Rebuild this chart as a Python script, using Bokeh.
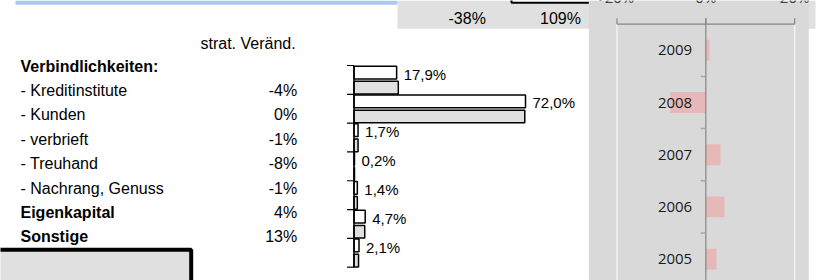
from bokeh.plotting import figure
from bokeh.models import Range1d, ColumnDataSource
from bokeh.embed import file_html
from bokeh.resources import INLINE
from bokeh.core.properties import value, field

# ---------------- data ----------------
row_labels = ["Verbindlichkeiten:", "- Kreditinstitute", "- Kunden", "- verbrieft",
              "- Treuhand", "- Nachrang, Genuss", "Eigenkapital", "Sonstige"]
row_bold = [True, False, False, False, False, False, True, True]
strat_change = ["", "-4%", "0%", "-1%", "-8%", "-1%", "4%", "13%"]
strat_header = "strat. Veränd."

bar_categories = ["Kreditinstitute", "Kunden", "verbrieft", "Treuhand",
                  "Nachrang, Genuss", "Eigenkapital", "Sonstige"]
share_current = [17.9, 72.0, 1.7, 0.2, 1.4, 4.7, 2.1]
share_previous = [18.6, 71.7, 1.7, 0.2, 1.4, 4.5, 1.9]
share_labels = ["17,9%", "72,0%", "1,7%", "0,2%", "1,4%", "4,7%", "2,1%"]

header_values = ["-38%", "109%"]

years = ["2009", "2008", "2007", "2006", "2005"]
year_change = [0.8, -8.0, 3.3, 4.2, 2.4]
year_ticks = [-20, 0, 20]
year_tick_labels = ["-20%", "0%", "20%"]

# ---------------- layout (pixels) ----------------
W, H = 827, 280
LEFT_FONT = "Liberation Sans"
YEAR_FONT = "Open Sans"

p = figure(width=W, height=H, x_range=Range1d(0, W), y_range=Range1d(H, 0),
           output_backend="svg", toolbar_location=None, min_border=0,
           x_axis_location=None, y_axis_location=None)
p.grid.visible = False
p.outline_line_color = None
p.background_fill_color = "white"
p.border_fill_color = "white"

# middle bar chart scales
mid_zero, mid_scale = 353.5, 2.382          # px of 0 %, px per %
mid_top, mid_step = 65.0, 28.81             # px of first category top, px per category
# right year chart scales
yr_zero, yr_scale = 705.3, 4.44
yr_top, yr_step = 23.7, 52.2
# left rows
row_top, row_step = 65.5, 24.4

p.extra_x_ranges = {
    "mid_x": Range1d(-mid_zero / mid_scale, (W - mid_zero) / mid_scale),
    "yr_x": Range1d(-yr_zero / yr_scale, (W - yr_zero) / yr_scale),
}
p.extra_y_ranges = {
    "mid_y": Range1d((H - mid_top) / mid_step - 0.5, -mid_top / mid_step - 0.5),
    "yr_y": Range1d((H - yr_top) / yr_step - 0.5, -yr_top / yr_step - 0.5),
    "rows": Range1d((H - row_top) / row_step, -row_top / row_step),
}

# ---------------- background decoration ----------------
p.quad(left=15, right=397, top=0, bottom=4.3, fill_color="#a9caf0", line_color=None)
p.quad(left=397, right=815, top=0, bottom=28.3, fill_color="#e0e0e0", line_color=None)
p.quad(left=511, right=600, top=-5, bottom=2.3, fill_color="white",
       line_color="black", line_width=2)
p.quad(left=588.3, right=808.3, top=0, bottom=H + 5, fill_color="#d9d9d9", line_color=None)
p.quad(left=-5, right=190.7, top=249.3, bottom=H + 10, fill_color="#e0e0e0",
       line_color="black", line_width=4)

# ---------------- left table ----------------
n_rows = len(row_labels)
rows_src = ColumnDataSource(dict(
    y=list(range(n_rows)),
    label=row_labels,
    style=["bold" if b else "normal" for b in row_bold],
    change=strat_change,
))
p.text(x=20, y="y", text="label", source=rows_src, y_range_name="rows",
       text_font=value(LEFT_FONT), text_font_size="16px", text_font_style=field("style"),
       text_baseline="middle", text_align="left", text_color="black")
p.text(x=296.7, y="y", text="change", source=rows_src, y_range_name="rows",
       text_font=value(LEFT_FONT), text_font_size="16px",
       text_baseline="middle", text_align="right", text_color="black")
p.text(x=[200], y=[42.7], text=[strat_header], text_font=value(LEFT_FONT),
       text_font_size="16px", text_baseline="middle", text_align="left", text_color="black")

# header values in grey band
p.text(x=[466.7, 560], y=[18.3, 18.3], text=header_values, text_font=value(LEFT_FONT),
       text_font_size="16px", text_baseline="middle", text_align="center", text_color="black")

# ---------------- middle bar chart ----------------
n_cat = len(bar_categories)
mid_src = ColumnDataSource(dict(
    yc=[i - 0.255 for i in range(n_cat)],
    yp=[i + 0.27 for i in range(n_cat)],
    yl=[i - 0.2 for i in range(n_cat)],
    cur=share_current, prev=share_previous, lab=share_labels,
))
p.hbar(y="yc", left=0, right="cur", height=0.44, source=mid_src,
       fill_color="white", line_color="black", line_width=1.5,
       x_range_name="mid_x", y_range_name="mid_y")
p.hbar(y="yp", left=0, right="prev", height=0.44, source=mid_src,
       fill_color="#e0e0e0", line_color="black", line_width=1.5,
       x_range_name="mid_x", y_range_name="mid_y")
# axis line and ticks at category boundaries
bounds = [i - 0.5 for i in range(n_cat + 1)]
p.segment(x0=[0], x1=[0], y0=[bounds[0]], y1=[bounds[-1]], line_color="black",
          line_width=1.5, x_range_name="mid_x", y_range_name="mid_y")
p.segment(x0=[0] * len(bounds), x1=[-7 / mid_scale] * len(bounds), y0=bounds, y1=bounds,
          line_color="black", line_width=1.2, x_range_name="mid_x", y_range_name="mid_y")
p.text(x="cur", y="yl", text="lab", source=mid_src, x_offset=7,
       text_font=value(LEFT_FONT), text_font_size="15px", text_baseline="middle",
       text_align="left", text_color="black", x_range_name="mid_x", y_range_name="mid_y")

# ---------------- right year chart ----------------
n_yr = len(years)
yr_src = ColumnDataSource(dict(y=list(range(n_yr)), v=year_change, lab=years))
ybounds = [j - 0.5 for j in range(n_yr + 1)]
# plot area borders (light)
p.segment(x0=[year_ticks[0], year_ticks[-1]], x1=[year_ticks[0], year_ticks[-1]],
          y0=[ybounds[0]] * 2, y1=[ybounds[-1] + 0.2] * 2, line_color="#f2f2f2",
          line_width=1.5, x_range_name="yr_x", y_range_name="yr_y")
p.hbar(y="y", left=0, right="v", height=0.4, source=yr_src, fill_color="#e6b8b7",
       line_color=None, x_range_name="yr_x", y_range_name="yr_y")
tick_len = 6 / yr_step
p.segment(x0=[0], x1=[0], y0=[ybounds[0] - tick_len], y1=[ybounds[-1] + 0.2],
          line_color="#868686", line_width=1.2, x_range_name="yr_x", y_range_name="yr_y")
p.segment(x0=[year_ticks[0]], x1=[year_ticks[-1]], y0=[ybounds[0]], y1=[ybounds[0]],
          line_color="#868686", line_width=1.2, x_range_name="yr_x", y_range_name="yr_y")
p.segment(x0=year_ticks, x1=year_ticks, y0=[ybounds[0]] * len(year_ticks),
          y1=[ybounds[0] - tick_len] * len(year_ticks), line_color="#868686",
          line_width=1.2, x_range_name="yr_x", y_range_name="yr_y")
p.text(x=year_ticks, y=[ybounds[0]] * len(year_ticks), text=year_tick_labels, y_offset=-17,
       text_font=value(YEAR_FONT), text_font_size="15px", text_baseline="bottom",
       text_align="center", text_color="#404040", x_range_name="yr_x", y_range_name="yr_y")
inner = ybounds[1:-1]
p.segment(x0=[-5 / yr_scale] * len(inner), x1=[0] * len(inner), y0=inner, y1=inner,
          line_color="#a6a6a6", line_width=1.5, x_range_name="yr_x", y_range_name="yr_y")
p.text(x=0, y="y", text="lab", source=yr_src, x_offset=-13.6,
       text_font=value(YEAR_FONT), text_font_size="15px", text_baseline="middle",
       text_align="right", text_color="#1a1a1a", x_range_name="yr_x", y_range_name="yr_y")

open("out.html", "w").write(file_html(p, INLINE))
